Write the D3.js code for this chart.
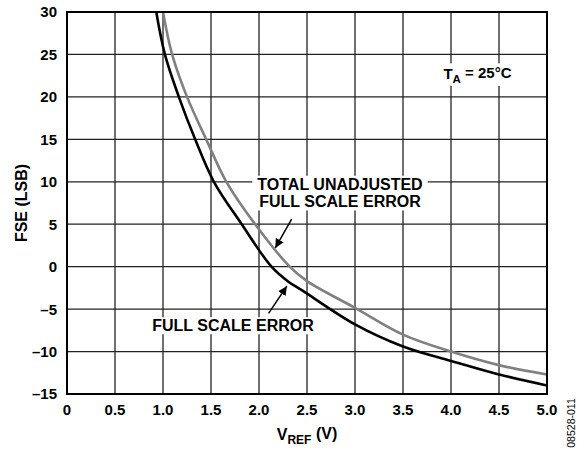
<!DOCTYPE html>
<html>
<head>
<meta charset="utf-8">
<script src="https://cdn.jsdelivr.net/npm/d3@7"></script>
<style>
  body { margin: 0; background: #fff; }
  text { font-family: Arial, "Liberation Sans", Helvetica, sans-serif; }
</style>
</head>
<body>
<div id="plot"></div>
<script>
// data
const xTicks = [0, 0.5, 1.0, 1.5, 2.0, 2.5, 3.0, 3.5, 4.0, 4.5, 5.0];
const yTicks = [-15, -10, -5, 0, 5, 10, 15, 20, 25, 30];

// full scale error (black)
const fseV   = [0.93, 1.02, 1.165, 1.335, 1.53, 1.82, 2.13, 2.31, 2.45, 3.0, 3.5, 4.0, 4.5, 5.0];
const fseVal = [30, 25, 20, 15, 10, 5, 0, -1.8, -2.8, -6.8, -9.4, -11.1, -12.7, -14.0];

// total unadjusted full scale error (gray)
const tueV   = [1.0, 1.095, 1.25, 1.45, 1.66, 1.96, 2.32, 2.5, 3.0, 3.5, 4.0, 4.5, 5.0];
const tueVal = [30, 25, 20, 15, 10, 5, 0, -1.7, -4.85, -8.0, -10, -11.6, -12.7];

const w = 586;
const h = 451;
const margin = {top: 12, right: 39, bottom: 57, left: 67};
const innerWidth = w - margin.left - margin.right;
const innerHeight = h - margin.top - margin.bottom;

const svg = d3.select("div#plot")
  .append("svg")
    .attr("width", w)
    .attr("height", h);

const g = svg.append("g")
  .attr("transform", `translate(${margin.left}, ${margin.top})`);

const xScale = d3.scaleLinear()
  .domain([0, 5])
  .range([0, innerWidth]);

const yScale = d3.scaleLinear()
  .domain([-15, 30])
  .range([innerHeight, 0]);

// grid
g.append("g")
  .selectAll("line")
  .data(xTicks)
  .join("line")
    .attr("x1", d => xScale(d))
    .attr("x2", d => xScale(d))
    .attr("y1", 0)
    .attr("y2", innerHeight)
    .attr("stroke", "#222")
    .attr("stroke-width", 1.3);

g.append("g")
  .selectAll("line")
  .data(yTicks)
  .join("line")
    .attr("x1", 0)
    .attr("x2", innerWidth)
    .attr("y1", d => yScale(d))
    .attr("y2", d => yScale(d))
    .attr("stroke", "#222")
    .attr("stroke-width", 1.3);

// tick labels
const fmtY = d => d < 0 ? "\u2013" + Math.abs(d) : String(d);
const fmtX = d => d === 0 ? "0" : d.toFixed(1);

g.append("g")
  .selectAll("text")
  .data(yTicks)
  .join("text")
    .attr("x", -10)
    .attr("y", d => yScale(d))
    .attr("dy", "0.36em")
    .attr("text-anchor", "end")
    .style("font-size", "15px")
    .style("font-weight", "bold")
    .text(fmtY);

g.append("g")
  .selectAll("text")
  .data(xTicks)
  .join("text")
    .attr("x", d => xScale(d))
    .attr("y", innerHeight + 21)
    .attr("text-anchor", "middle")
    .style("font-size", "15px")
    .style("font-weight", "bold")
    .text(fmtX);

// clip for curves
svg.append("defs").append("clipPath")
  .attr("id", "clip")
  .append("rect")
    .attr("width", innerWidth)
    .attr("height", innerHeight);

const line = d3.line()
  .x(d => xScale(d[0]))
  .y(d => yScale(d[1]))
  .curve(d3.curveCatmullRom.alpha(0.5));

const curves = g.append("g").attr("clip-path", "url(#clip)");

curves.append("path")
  .datum(d3.zip(tueV, tueVal))
  .attr("fill", "none")
  .attr("stroke", "#808080")
  .attr("stroke-width", 2.6)
  .attr("d", line);

curves.append("path")
  .datum(d3.zip(fseV, fseVal))
  .attr("fill", "none")
  .attr("stroke", "#000")
  .attr("stroke-width", 2.6)
  .attr("d", line);

// white box behind a text node
function boxBehind(t, padX, padY) {
  const b = t.node().getBBox();
  g.insert("rect", () => t.node())
    .attr("x", b.x - padX)
    .attr("y", b.y - padY)
    .attr("width", b.width + 2 * padX)
    .attr("height", b.height + 2 * padY)
    .attr("fill", "#fff");
}

// annotation labels
function label(lines, cx, cy, lh, size) {
  const t = g.append("text")
    .attr("text-anchor", "middle")
    .style("font-size", size + "px")
    .style("font-weight", "bold");
  lines.forEach((s, i) => {
    t.append("tspan")
      .attr("x", cx)
      .attr("y", cy + i * lh)
      .attr("dy", "0.36em")
      .text(s);
  });
  boxBehind(t, 5, 0);
  return t;
}

label(["TOTAL UNADJUSTED", "FULL SCALE ERROR"], 340 - margin.left, 184 - margin.top, 17.7, 16);
label(["FULL SCALE ERROR"], 233 - margin.left, 325.5 - margin.top, 18, 16);

// T_A label
const ta = g.append("text")
  .attr("x", 477.5 - margin.left)
  .attr("y", 74 - margin.top)
  .attr("dy", "0.36em")
  .attr("text-anchor", "middle")
  .style("font-size", "15px")
  .style("font-weight", "bold");
ta.append("tspan").text("T");
ta.append("tspan").attr("dy", "0.3em").style("font-size", "11.5px").text("A");
ta.append("tspan").attr("dy", "-0.3em").text(" = 25°C");
boxBehind(ta, 4, 1);

// arrows
svg.append("defs").append("marker")
  .attr("id", "arrow")
  .attr("viewBox", "0 0 10 10")
  .attr("refX", 10)
  .attr("refY", 5)
  .attr("markerWidth", 9)
  .attr("markerHeight", 10)
  .attr("markerUnits", "userSpaceOnUse")
  .attr("orient", "auto")
  .append("path")
    .attr("d", "M0,0 L10,5 L0,10 Z")
    .attr("fill", "#000");

// arrow end points given in data units
const arrows = [
  {from: [2.34, 5.6], to: [2.17, 2.2]},
  {from: [2.10, -5.5], to: [2.29, -2.3]}
];
g.selectAll("line.arrow")
  .data(arrows)
  .join("line")
    .attr("class", "arrow")
    .attr("x1", d => xScale(d.from[0]))
    .attr("y1", d => yScale(d.from[1]))
    .attr("x2", d => xScale(d.to[0]))
    .attr("y2", d => yScale(d.to[1]))
    .attr("stroke", "#000")
    .attr("stroke-width", 1.5)
    .attr("marker-end", "url(#arrow)");

// frame
g.append("rect")
  .attr("width", innerWidth)
  .attr("height", innerHeight)
  .attr("fill", "none")
  .attr("stroke", "#000")
  .attr("stroke-width", 2);

// axis titles
const xt = svg.append("text")
  .attr("x", margin.left + innerWidth / 2)
  .attr("y", 440)
  .attr("text-anchor", "middle")
  .style("font-size", "16px")
  .style("font-weight", "bold");
xt.append("tspan").text("V");
xt.append("tspan").attr("dy", "0.3em").style("font-size", "12px").text("REF");
xt.append("tspan").attr("dy", "-0.3em").text(" (V)");

svg.append("text")
  .attr("transform", `translate(27, ${margin.top + innerHeight / 2}) rotate(-90)`)
  .attr("text-anchor", "middle")
  .style("font-size", "16px")
  .style("font-weight", "bold")
  .text("FSE (LSB)");

svg.append("text")
  .attr("transform", "translate(575, 423) rotate(-90)")
  .attr("text-anchor", "middle")
  .style("font-size", "10.5px")
  .text("08528-011");
</script>
</body>
</html>
